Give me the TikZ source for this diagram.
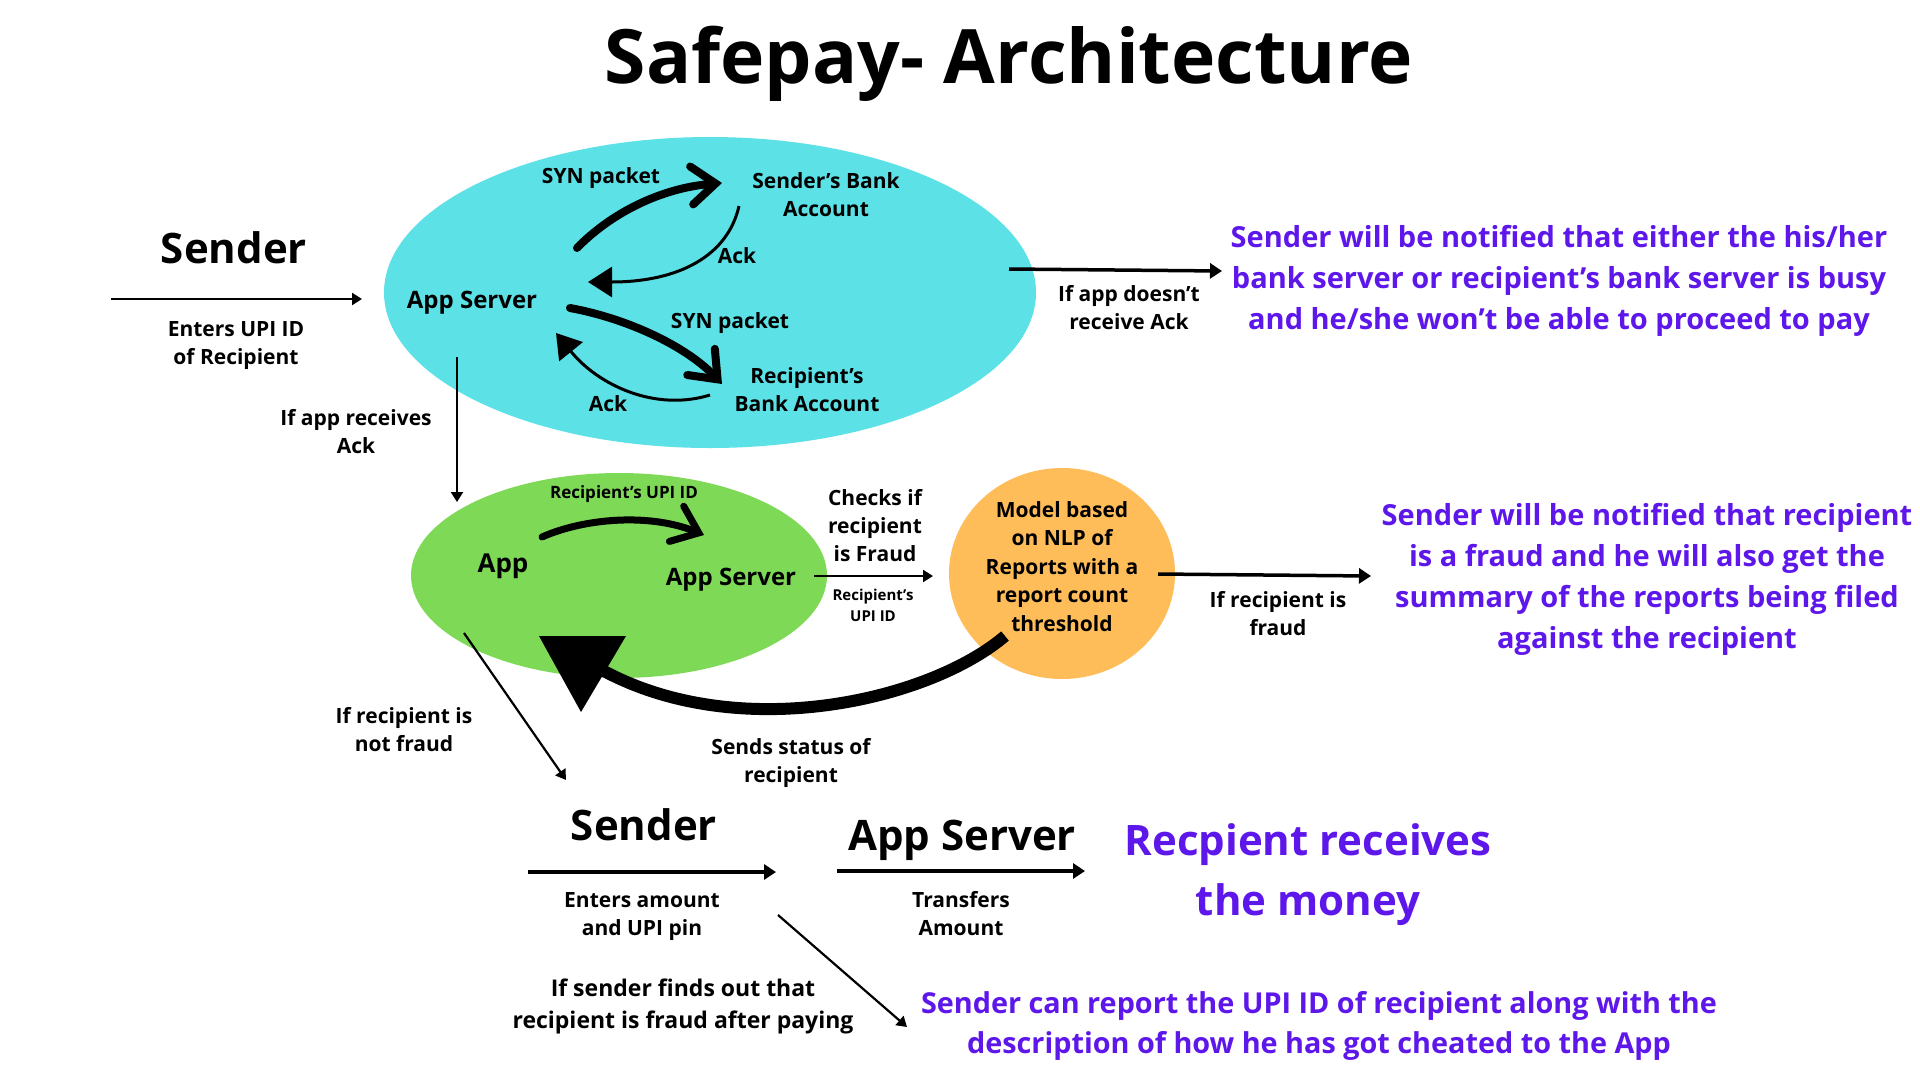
\documentclass[tikz,border=0pt]{standalone}
\usepackage{fontspec}
\setmainfont{Open Sans}
\usetikzlibrary{arrows.meta,shapes.geometric}
\definecolor{cyanfill}{HTML}{5CE1E6}
\definecolor{greenfill}{HTML}{7ED957}
\definecolor{orangefill}{HTML}{FFBD59}
\definecolor{purp}{HTML}{5E17EB}
\begin{document}
\begin{tikzpicture}[x=1pt,y=-1pt,
  every node/.style={inner sep=0pt, outer sep=0pt, align=center, anchor=base},
  titlefont/.style={font=\bfseries\fontsize{75}{90}\selectfont},
  bigfont/.style={font=\bfseries\fontsize{42}{50}\selectfont},
  midfont/.style={font=\bfseries\fontsize{24}{30}\selectfont},
  lbl/.style={font=\bfseries\fontsize{21}{28}\selectfont},
  smallfont/.style={font=\bfseries\fontsize{17}{22}\selectfont},
  tinyfont/.style={font=\bfseries\fontsize{15}{21}\selectfont},
  findfont/.style={font=\bfseries\fontsize{23}{32}\selectfont},
  note/.style={font=\bfseries\fontsize{29}{41}\selectfont, text=purp},
  bignote/.style={font=\bfseries\fontsize{42}{60}\selectfont, text=purp},
  blob/.style={ellipse, draw=none, inner sep=0pt, anchor=center},
  conn/.style={line width=2.2pt, -{Triangle[length=10pt,width=12pt]}},
  connb/.style={line width=3.5pt, -{Triangle[length=12pt,width=15pt]}},
  thickarr/.style={line width=8pt, line cap=round, -{Straight Barb[length=24pt,width=38pt,line cap=round]}},
  ackarr/.style={line width=3pt, -{Triangle[length=24pt,width=30pt]}},
]
\useasboundingbox (0,0) rectangle (1920,1080);
\fill[white] (0,0) rectangle (1920,1080);

% title
\node[titlefont] (title) at (1009,83) {Safepay- Architecture};

% top left sender
\node[bigfont] (sender1) at (234,263) {Sender};
\coordinate (s1a) at (111,299);
\coordinate (s1b) at (362,299);
\draw[conn] (s1a) -- (s1b);
\node[lbl] (enters1) at (236,364) {Enters UPI ID\\of Recipient};

% cyan ellipse
\node[blob, fill=cyanfill, minimum width=652pt, minimum height=311pt] (cyanell) at (710,292.5) {};
\node[midfont] (appsrv1) at (472,308) {App Server};
\node[lbl] (syn1) at (601,183) {SYN packet};
\node[lbl] (sbank) at (826,216) {Sender’s Bank\\Account};
\node[lbl] (ack1) at (737,263) {Ack};
\node[lbl] (syn2) at (730,328) {SYN packet};
\node[lbl] (rbank) at (807,411) {Recipient’s\\Bank Account};
\node[lbl] (ack2) at (608,411) {Ack};

\coordinate (u1) at (577,248);
\coordinate (u2) at (722,183);
\draw[thickarr] (u1) .. controls (610,214) and (660,188) .. (u2);
\coordinate (a1) at (739,206);
\coordinate (a2) at (588,282);
\draw[ackarr] (a1) .. controls (728,255) and (680,282) .. (a2);
\coordinate (l1) at (570,308);
\coordinate (l2) at (722,384);
\draw[thickarr] (l1) .. controls (625,318) and (685,345) .. (l2);
\coordinate (b1) at (710,395);
\coordinate (b2) at (556,333);
\draw[ackarr] (b1) .. controls (655,412) and (598,385) .. (b2);

% right of cyan
\coordinate (r1a) at (1009,269);
\coordinate (r1b) at (1222,271);
\draw[connb] (r1a) -- (r1b);
\node[lbl] (noack) at (1129,329) {If app doesn’t\\receive Ack};
\node[note] (busy) at (1559,329) {Sender will be notified that either the his/her\\bank server or recipient’s bank server is busy\\and he/she won’t be able to proceed to pay};

% vertical
\coordinate (v1) at (457,357);
\coordinate (v2) at (457,502);
\draw[conn] (v1) -- (v2);
\node[lbl] (recvack) at (356,453) {If app receives\\Ack};

% green ellipse
\node[blob, fill=greenfill, minimum width=416pt, minimum height=205pt] (greenell) at (619,575.5) {};
\node[smallfont] (rupi1) at (624,498) {Recipient’s UPI ID};
\node[font=\bfseries\fontsize{26}{30}\selectfont] (app) at (503,572) {App};
\node[midfont] (appsrv2) at (731,585) {App Server};
\coordinate (g1) at (542,537);
\coordinate (g2) at (704,535);
\draw[thickarr, line width=7pt] (g1) .. controls (585,518) and (650,513) .. (g2);

% to orange
\coordinate (o1a) at (814,576);
\coordinate (o1b) at (933,576);
\draw[conn] (o1a) -- (o1b);
\node[lbl] (checks) at (875,561) {Checks if\\recipient\\is Fraud};
\node[tinyfont] (rupi2) at (873,621) {Recipient’s\\UPI ID};

% orange
\node[blob, fill=orangefill, minimum width=226pt, minimum height=211pt] (orangeell) at (1062,573.5) {};
\node[font=\bfseries\fontsize{21}{28.5}\selectfont] (model) at (1062,631) {Model based\\on NLP of\\Reports with a\\report count\\threshold};

\coordinate (f1a) at (1158,574);
\coordinate (f1b) at (1371,576);
\draw[connb] (f1a) -- (f1b);
\node[lbl] (iffraud) at (1278,635) {If recipient is\\fraud};
\node[note] (fraudnote) at (1647,648) {Sender will be notified that recipient\\is a fraud and he will also get the\\summary of the reports being filed\\against the recipient};

% return arrow
\coordinate (ret1) at (1005,636);
\coordinate (ret2) at (602,670);
\draw[line width=12pt] (ret1) .. controls (930,700) and (740,745) .. (ret2);
\coordinate (tri1) at (539,636);
\coordinate (tri2) at (626,636);
\coordinate (tri3) at (581,712);
\fill (tri1) -- (tri2) -- (tri3) -- cycle;
\node[lbl] (sends) at (791,782) {Sends status of\\recipient};

% not fraud
\coordinate (d1) at (464,633);
\coordinate (d2) at (566,780);
\draw[conn] (d1) -- (d2);
\node[lbl] (notfraud) at (404,751) {If recipient is\\not fraud};

% bottom row
\node[bigfont] (sender2) at (644,840) {Sender};
\coordinate (p1a) at (528,872);
\coordinate (p1b) at (776,872);
\draw[connb] (p1a) -- (p1b);
\node[lbl] (enters2) at (642,935) {Enters amount\\and UPI pin};
\node[bigfont] (appsrv3) at (962,850) {App Server};
\coordinate (p2a) at (837,871);
\coordinate (p2b) at (1085,871);
\draw[connb] (p2a) -- (p2b);
\node[lbl] (transfers) at (961,935) {Transfers\\Amount};
\node[bignote] (receives) at (1308,915) {Recpient receives\\the money};

\coordinate (q1) at (778,915);
\coordinate (q2) at (907,1027);
\draw[conn] (q1) -- (q2);
\node[findfont] (findsout) at (683,1028) {If sender finds out that\\recipient is fraud after paying};
\node[note, font=\bfseries\fontsize{28.8}{40}\selectfont] (report) at (1319,1053) {Sender can report the UPI ID of recipient along with the\\description of how he has got cheated to the App};
\end{tikzpicture}
\end{document}
